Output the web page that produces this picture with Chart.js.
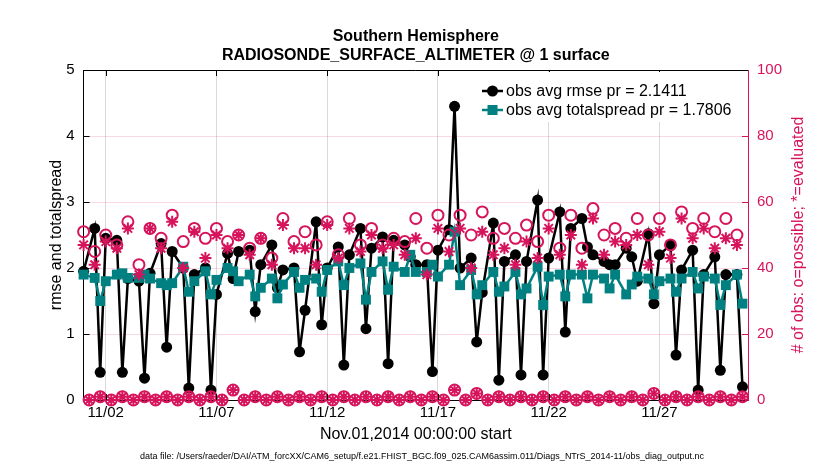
<!DOCTYPE html>
<html>
<head>
<meta charset="utf-8">
<script src="https://cdn.jsdelivr.net/npm/chart.js@4.4.1/dist/chart.umd.min.js"></script>
<style>
  html, body { margin: 0; padding: 0; background: #fff; }
</style>
</head>
<body>
<canvas id="chart" width="830" height="470"></canvas>
<script>
// DATA: one row per day (11/01 .. 11/30), columns 00Z 06Z 12Z 18Z

const binsPerDay = 4;
const xTickDays = [1, 6, 11, 16, 21, 26];
const xTickLabels = ['11/02', '11/07', '11/12', '11/17', '11/22', '11/27'];

const rmse = [
    1.95, null, 2.60, 0.42,
    2.45, null, 2.42, 0.42,
    1.84, null, 1.80, 0.33,
    1.92, null, 2.37, 0.80,
    2.25, null, 2.00, 0.18,
    1.90, null, 2.00, 0.15,
    1.60, null, 2.22, 1.84,
    2.25, null, 2.27, 1.34,
    2.05, null, 2.35, 1.70,
    1.97, null, 2.00, 0.73,
    1.36, null, 2.70, 1.14,
    2.00, null, 2.32, 0.53,
    2.20, null, 2.60, 1.08,
    2.30, null, 2.47, 0.55,
    2.42, null, 2.35, 2.17,
    2.05, null, 2.05, 0.43,
    2.27, null, 2.58, 4.45,
    2.00, null, 2.15, 0.88,
    1.63, null, 2.68, 0.30,
    2.10, null, 2.20, 0.38,
    2.10, null, 3.03, 0.38,
    2.15, null, 2.85, 1.03,
    2.60, null, 2.75, 2.32,
    2.20, null, 2.10, 2.05,
    2.05, null, 2.30, 2.17,
    1.80, null, 2.52, 1.46,
    2.20, null, 2.35, 0.68,
    1.97, null, 2.27, 0.15,
    1.90, null, 2.17, 0.45,
    1.90, null, 1.90, 0.20
];

const spread = [
    1.90, null, 1.85, 1.50,
    1.80, null, 1.90, 1.92,
    1.85, null, 1.85, 1.90,
    1.84, null, 1.77, 1.74,
    1.77, null, 2.02, 1.64,
    1.80, null, 1.95, 1.60,
    1.82, null, 2.00, 1.95,
    1.80, null, 1.90, 1.57,
    1.70, null, 1.84, 1.54,
    1.75, null, 1.94, 1.70,
    1.82, null, 1.84, 1.64,
    1.97, null, 2.10, 1.74,
    2.00, null, 2.07, 1.52,
    1.94, null, 2.10, 1.67,
    2.02, null, 1.94, 2.20,
    1.94, null, 1.94, 2.05,
    1.87, null, 2.05, 2.55,
    1.74, null, 1.97, 1.60,
    1.74, null, 1.94, 1.64,
    1.72, null, 1.94, 1.60,
    1.69, null, 2.02, 1.44,
    1.87, null, 1.90, 1.57,
    1.90, null, 1.90, 1.54,
    1.90, null, 1.84, 1.69,
    1.90, null, 1.60, 1.75,
    1.87, null, 1.84, 1.60,
    1.80, null, 1.84, 1.64,
    1.84, null, 1.94, 1.69,
    1.87, null, 1.84, 1.44,
    1.74, null, 1.90, 1.46
];

const nPossible = [
    51, 0, 45, 1,
    50, 0, 47, 1,
    54, 0, 41, 1,
    52, 0, 49, 1,
    56, 0, 48, 1,
    52, 0, 49, 1,
    52, 0, 48, 3,
    50, 0, 46, 1,
    49, 0, 43, 1,
    55, 0, 48, 1,
    51, 0, 47, 1,
    54, 0, 44, 1,
    55, 0, 47, 1,
    52, 0, 47, 1,
    49, 0, 48, 1,
    55, 0, 46, 1,
    56, 0, 50, 3,
    56, 0, 50, 2,
    57, 0, 49, 1,
    52, 0, 49, 1,
    53, 0, 48, 1,
    56, 0, 46, 1,
    56, 0, 46, 1,
    58, 0, 50, 1,
    52, 0, 49, 1,
    55, 0, 50, 2,
    55, 0, 47, 1,
    57, 0, 52, 1,
    55, 0, 51, 1,
    55, 0, 50, 1
];

const nEvaluated = [
    47, 0, 41, 1,
    48, 0, 46, 1,
    52, 0, 38, 1,
    52, 0, 46, 1,
    54, 0, 40, 1,
    51, 0, 43, 1,
    50, 0, 46, 3,
    50, 0, 44, 1,
    49, 0, 41, 1,
    53, 0, 46, 1,
    46, 0, 41, 1,
    53, 0, 43, 1,
    52, 0, 45, 1,
    50, 0, 46, 1,
    47, 0, 44, 1,
    49, 0, 38, 1,
    52, 0, 45, 3,
    52, 0, 40, 2,
    51, 0, 44, 1,
    46, 0, 41, 1,
    48, 0, 43, 1,
    52, 0, 44, 1,
    50, 0, 41, 1,
    55, 0, 44, 1,
    48, 0, 47, 1,
    50, 0, 41, 2,
    51, 0, 43, 1,
    55, 0, 49, 1,
    52, 0, 46, 1,
    49, 0, 47, 1
];

const legendRmse = 'obs avg rmse pr = 2.1411';
const legendSpread = 'obs avg totalspread pr = 1.7806';
const titleLines = ['Southern Hemisphere', 'RADIOSONDE_SURFACE_ALTIMETER @ 1 surface'];
const xTitle = 'Nov.01,2014 00:00:00 start';
const yTitle = 'rmse and totalspread';
const yRightTitle = '# of obs: o=possible; *=evaluated';
const dataFile = 'data file: /Users/raeder/DAI/ATM_forcXX/CAM6_setup/f.e21.FHIST_BGC.f09_025.CAM6assim.011/Diags_NTrS_2014-11/obs_diag_output.nc';

// STYLE //

const pink = '#d6145c';
const teal = '#008080';
const fontFamily = '"Liberation Sans", Arial, Helvetica, sans-serif';

const binDays = rmse.map((v, i) => i / binsPerDay);
const toPoints = arr => arr.map((v, i) => ({ x: binDays[i], y: v }));

// frame, inward ticks, legend and all the loose texts
const decorations = {
    id: 'decorations',
    afterDraw(chart) {
        const ctx = chart.ctx;
        const a = chart.chartArea;
        const xs = chart.scales.x;
        const yl = chart.scales.y;
        const yr = chart.scales.yR;
        ctx.save();

        // top border
        ctx.strokeStyle = '#000';
        ctx.lineWidth = 1;
        ctx.beginPath();
        ctx.moveTo(a.left, a.top + 0.5);
        ctx.lineTo(a.right, a.top + 0.5);
        ctx.stroke();

        // inward ticks
        ctx.beginPath();
        xTickDays.forEach(d => {
            const px = Math.round(xs.getPixelForValue(d)) + 0.5;
            ctx.moveTo(px, a.bottom);
            ctx.lineTo(px, a.bottom - 6);
            ctx.moveTo(px, a.top);
            ctx.lineTo(px, a.top + 6);
        });
        [1, 2, 3, 4].forEach(v => {
            const py = Math.round(yl.getPixelForValue(v)) + 0.5;
            ctx.moveTo(a.left, py);
            ctx.lineTo(a.left + 6, py);
        });
        ctx.stroke();
        ctx.strokeStyle = pink;
        ctx.beginPath();
        [20, 40, 60, 80].forEach(v => {
            const py = Math.round(yr.getPixelForValue(v)) + 0.5;
            ctx.moveTo(a.right, py);
            ctx.lineTo(a.right - 6, py);
        });
        ctx.stroke();

        // legend
        ctx.fillStyle = '#fff';
        ctx.fillRect(478, a.top + 2, a.right - 480, 50);
        ctx.font = '16px ' + fontFamily;
        ctx.textAlign = 'left';
        ctx.textBaseline = 'middle';
        const rows = [
            { y: a.top + 21, color: '#000', style: 'circle', text: legendRmse },
            { y: a.top + 40, color: teal, style: 'rect', text: legendSpread }
        ];
        rows.forEach(r => {
            ctx.strokeStyle = r.color;
            ctx.lineWidth = 2.5;
            ctx.beginPath();
            ctx.moveTo(482, r.y);
            ctx.lineTo(503, r.y);
            ctx.stroke();
            ctx.fillStyle = r.color;
            if (r.style === 'circle') {
                ctx.beginPath();
                ctx.arc(492.5, r.y, 5.5, 0, Math.PI * 2);
                ctx.fill();
            } else {
                ctx.fillRect(487.5, r.y - 5, 10, 10);
            }
            ctx.fillStyle = '#000';
            ctx.fillText(r.text, 506, r.y + 1);
        });

        // titles
        const cx = (a.left + a.right) / 2;
        ctx.textAlign = 'center';
        ctx.fillStyle = '#000';
        ctx.font = 'bold 16px ' + fontFamily;
        ctx.fillText(titleLines[0], cx, 37);
        ctx.fillText(titleLines[1], cx, 56);
        ctx.font = '16px ' + fontFamily;
        ctx.fillText(xTitle, cx, 435);
        ctx.font = '9px ' + fontFamily;
        ctx.fillText(dataFile, 422, 457);

        ctx.save();
        ctx.translate(57, (a.top + a.bottom) / 2);
        ctx.rotate(-Math.PI / 2);
        ctx.font = '16px ' + fontFamily;
        ctx.fillText(yTitle, 0, 0);
        ctx.restore();

        ctx.save();
        ctx.translate(799, (a.top + a.bottom) / 2);
        ctx.rotate(-Math.PI / 2);
        ctx.font = '16px ' + fontFamily;
        ctx.fillStyle = pink;
        ctx.fillText(yRightTitle, 0, 0);
        ctx.restore();

        ctx.restore();
    }
};

const tickFont = { family: fontFamily, size: 15 };

new Chart(document.getElementById('chart'), {
    type: 'line',
    data: {
        datasets: [
            {
                label: 'evaluated',
                data: toPoints(nEvaluated),
                yAxisID: 'yR',
                showLine: false,
                pointStyle: 'star',
                pointRadius: 6,
                pointBorderWidth: 2,
                borderColor: pink,
                backgroundColor: pink,
                clip: false,
                order: 0
            },
            {
                label: 'possible',
                data: toPoints(nPossible),
                yAxisID: 'yR',
                showLine: false,
                pointStyle: 'circle',
                pointRadius: 5.5,
                pointBorderWidth: 2,
                borderColor: pink,
                backgroundColor: 'rgba(0,0,0,0)',
                clip: false,
                order: 1
            },
            {
                label: 'totalspread',
                data: toPoints(spread),
                yAxisID: 'y',
                spanGaps: true,
                borderColor: teal,
                backgroundColor: teal,
                borderWidth: 2.5,
                pointStyle: 'rect',
                pointRadius: 7,
                pointBorderWidth: 0,
                clip: false,
                order: 2
            },
            {
                label: 'rmse',
                data: toPoints(rmse),
                yAxisID: 'y',
                spanGaps: true,
                borderColor: '#000',
                backgroundColor: '#000',
                borderWidth: 2.5,
                pointStyle: 'circle',
                pointRadius: 5.5,
                pointBorderWidth: 0,
                clip: false,
                order: 3
            }
        ]
    },
    options: {
        responsive: false,
        animation: false,
        devicePixelRatio: 1,
        events: [],
        layout: { padding: { top: 70, left: 0, right: 0, bottom: 0 } },
        elements: { line: { tension: 0 } },
        plugins: {
            legend: { display: false },
            title: { display: false },
            tooltip: { enabled: false }
        },
        scales: {
            x: {
                type: 'linear',
                min: 0,
                max: 30,
                afterBuildTicks: s => { s.ticks = xTickDays.map(v => ({ value: v })); },
                afterFit: s => { s.height = 70; },
                ticks: {
                    autoSkip: false,
                    maxRotation: 0,
                    padding: 4,
                    color: '#000',
                    font: tickFont,
                    callback: v => xTickLabels[xTickDays.indexOf(v)]
                },
                grid: { color: '#d9d9d9', drawTicks: false },
                border: { color: '#000', width: 1 }
            },
            y: {
                position: 'left',
                min: 0,
                max: 5,
                afterFit: s => { s.width = 83.6; },
                ticks: { stepSize: 1, padding: 9, color: '#000', font: tickFont },
                grid: { display: false, drawTicks: false },
                border: { color: '#000', width: 1 }
            },
            yR: {
                position: 'right',
                min: 0,
                max: 100,
                afterFit: s => { s.width = 82; },
                ticks: { stepSize: 20, padding: 9, color: pink, font: tickFont },
                grid: { color: 'rgba(214,20,92,0.16)', drawTicks: false },
                border: { color: pink, width: 1 }
            }
        }
    },
    plugins: [decorations]
});
</script>
</body>
</html>
